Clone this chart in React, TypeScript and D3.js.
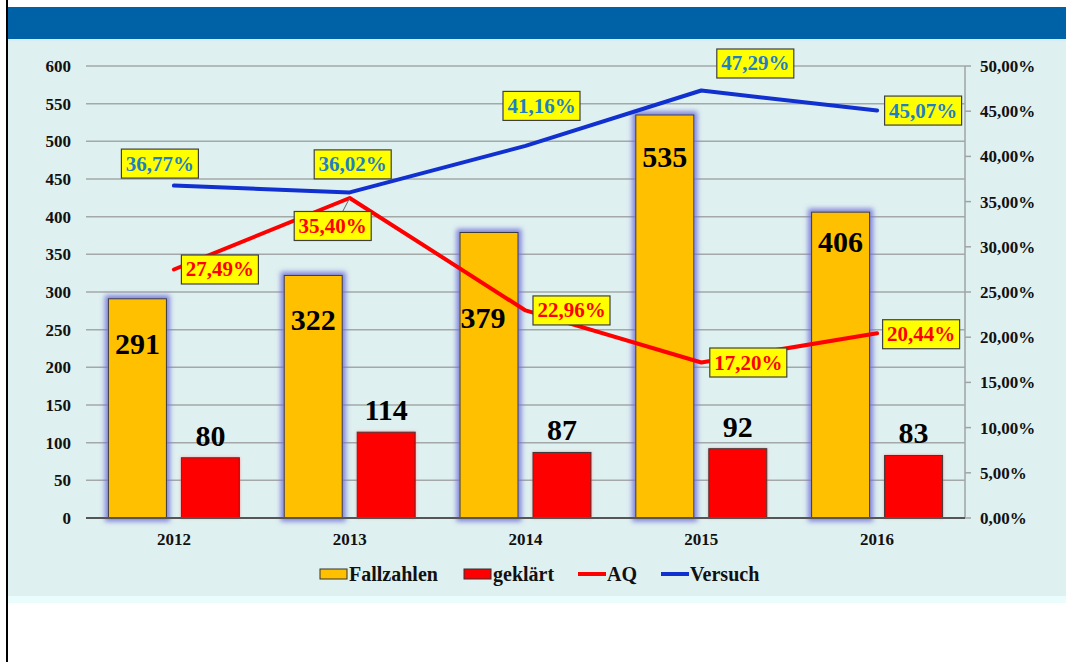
import React from "react";
import * as d3 from "d3";

const years = ["2012", "2013", "2014", "2015", "2016"];
const fallzahlen = [291, 322, 379, 535, 406];
const geklaert = [80, 114, 87, 92, 83];
const aq = [27.49, 35.4, 22.96, 17.2, 20.44];
const versuch = [36.77, 36.02, 41.16, 47.29, 45.07];
const leftTicks = [0, 50, 100, 150, 200, 250, 300, 350, 400, 450, 500, 550, 600];
const rightTicks = [0, 5, 10, 15, 20, 25, 30, 35, 40, 45, 50];
const legendNames = ["Fallzahlen", "geklärt", "AQ", "Versuch"];

// label placement (layout only)
const versuchLabelOffset = [[-14, -22], [3, -28], [16, -40], [54, -27], [46, 0]];
const aqLabelOffset = [[46, 0], [-17, 28], [46, 0], [47, 0], [44, 1]];
const fallLabelOffset = [[0, 55], [0, 55], [-6, 96], [0, 52], [0, 40]];

const W = 1066;
const H = 662;
const plotL = 86;
const plotR = 965;
const plotT = 66;
const plotB = 518;
const FONT = "'Liberation Serif', 'Times New Roman', serif";

const YELLOW = "#ffc000";
const RED = "#ff0000";
const BLUE = "#1030d0";
const LBLUE = "#1f7fc4";

const fmtPct = (v: number) => d3.format(".2f")(v).replace(".", ",") + "%";

export default function App() {
  const x0 = d3.scaleBand<string>().domain(years).range([plotL, plotR]).paddingInner(0).paddingOuter(0);
  const x1 = d3.scaleBand<string>().domain(["f", "g"]).range([0, x0.bandwidth()]).paddingInner(0.205).paddingOuter(0.307);
  const yL = d3.scaleLinear().domain([0, 600]).range([plotB, plotT]);
  const yR = d3.scaleLinear().domain([0, 50]).range([plotB, plotT]);
  const cx = (y: string) => (x0(y) as number) + x0.bandwidth() / 2;

  const line = d3
    .line<number>()
    .x((_, i) => cx(years[i]))
    .y((d) => yR(d))
    .curve(d3.curveLinear);

  const boxW = 77;
  const boxH = 29;

  const renderLabels = (vals: number[], offs: number[][], color: string, key: string) =>
    vals.map((v, i) => {
      const px = cx(years[i]);
      const py = yR(v);
      const bx = px + offs[i][0];
      const by = py + offs[i][1];
      return (
        <g key={key + i}>
          {key === "aq" && i === 1 && (
            <line x1={px} y1={py} x2={bx + 10} y2={by - boxH / 2} stroke="#666" strokeWidth={1} />
          )}
          <rect x={bx - boxW / 2} y={by - boxH / 2} width={boxW} height={boxH} fill="#ffff00" stroke="#404040" strokeWidth={1.2} />
          <text x={bx} y={by + 7} textAnchor="middle" fontFamily={FONT} fontWeight="bold" fontSize={21} fill={color}>
            {fmtPct(v)}
          </text>
        </g>
      );
    });

  const legendY = 574;
  const legendItems = [
    { x: 320, type: "rect", color: YELLOW },
    { x: 464, type: "rect", color: RED },
    { x: 578, type: "line", color: RED },
    { x: 661, type: "line", color: BLUE },
  ];

  return (
    <svg width={W} height={H} style={{ position: "absolute", left: 0, top: 0, display: "block" }}>
      <defs>
        <filter id="glowBlue" x="-30%" y="-30%" width="160%" height="160%">
          <feMorphology in="SourceAlpha" operator="dilate" radius="3" result="d" />
          <feGaussianBlur in="d" stdDeviation="2.5" result="b" />
          <feFlood floodColor="#7070d8" floodOpacity="0.85" />
          <feComposite in2="b" operator="in" result="g" />
          <feMerge>
            <feMergeNode in="g" />
            <feMergeNode in="SourceGraphic" />
          </feMerge>
        </filter>
        <filter id="glowRed" x="-30%" y="-30%" width="160%" height="160%">
          <feGaussianBlur in="SourceAlpha" stdDeviation="1.5" result="b" />
          <feFlood floodColor="#ff6060" floodOpacity="0.5" />
          <feComposite in2="b" operator="in" result="g" />
          <feMerge>
            <feMergeNode in="g" />
            <feMergeNode in="SourceGraphic" />
          </feMerge>
        </filter>
      </defs>
      <rect x={0} y={0} width={W} height={H} fill="#ffffff" />
      <rect x={8} y={40} width={W - 8} height={563} fill="#eafcfc" />
      <rect x={8} y={40} width={W - 8} height={556} fill="#dff0f0" />
      <rect x={8} y={7} width={W - 8} height={33} fill="#0062a6" />
      <rect x={8} y={39} width={W - 8} height={2} fill="#d8ecf4" />
      <line x1={7} y1={0} x2={7} y2={H} stroke="#000" strokeWidth={2} />

      {leftTicks
        .filter((t) => t > 0)
        .map((t) => (
          <line key={"g" + t} x1={plotL} x2={plotR} y1={yL(t)} y2={yL(t)} stroke="#a4a8a8" strokeWidth={1.5} />
        ))}

      {leftTicks.map((t) => (
        <text key={"l" + t} x={71} y={yL(t) + 6} textAnchor="end" fontFamily={FONT} fontWeight="bold" fontSize={17} fill="#111">
          {t}
        </text>
      ))}

      <line x1={plotR} x2={plotR} y1={plotT} y2={plotB} stroke="#a0a4a4" strokeWidth={1.5} />
      {rightTicks.map((t) => (
        <g key={"r" + t}>
          <line x1={plotR} x2={plotR + 6} y1={yR(t)} y2={yR(t)} stroke="#a0a4a4" strokeWidth={1.5} />
          <text x={980} y={yR(t) + 6} fontFamily={FONT} fontWeight="bold" fontSize={17} fill="#111">
            {fmtPct(t)}
          </text>
        </g>
      ))}

      {years.map((yr, i) => {
        const bx = x0(yr) as number;
        const fx = bx + (x1("f") as number);
        const gx = bx + (x1("g") as number);
        const bw = x1.bandwidth();
        return (
          <g key={"b" + yr}>
            <rect x={fx} y={yL(fallzahlen[i])} width={bw} height={plotB - yL(fallzahlen[i])} fill={YELLOW} stroke="#3a3a3a" strokeWidth={1} filter="url(#glowBlue)" />
            <rect x={gx} y={yL(geklaert[i])} width={bw} height={plotB - yL(geklaert[i])} fill={RED} stroke="#3a3a3a" strokeWidth={1} filter="url(#glowRed)" />
          </g>
        );
      })}

      <line x1={plotL} x2={plotR} y1={plotB} y2={plotB} stroke="#555" strokeWidth={2} />
      {years.map((yr) => (
        <text key={"x" + yr} x={cx(yr)} y={545} textAnchor="middle" fontFamily={FONT} fontWeight="bold" fontSize={17} fill="#111">
          {yr}
        </text>
      ))}

      {years.map((yr, i) => {
        const bx = x0(yr) as number;
        const bw = x1.bandwidth();
        const fx = bx + (x1("f") as number) + bw / 2;
        const gx = bx + (x1("g") as number) + bw / 2;
        return (
          <g key={"v" + yr}>
            <text x={fx + fallLabelOffset[i][0]} y={yL(fallzahlen[i]) + fallLabelOffset[i][1]} textAnchor="middle" fontFamily={FONT} fontWeight="bold" fontSize={30} fill="#000">
              {fallzahlen[i]}
            </text>
            <text x={gx} y={yL(geklaert[i]) - 12} textAnchor="middle" fontFamily={FONT} fontWeight="bold" fontSize={30} fill="#000">
              {geklaert[i]}
            </text>
          </g>
        );
      })}

      <path d={line(aq) || ""} fill="none" stroke={RED} strokeWidth={4} strokeLinejoin="round" strokeLinecap="round" />
      <path d={line(versuch) || ""} fill="none" stroke={BLUE} strokeWidth={4} strokeLinejoin="round" strokeLinecap="round" />

      {renderLabels(aq, aqLabelOffset, RED, "aq")}
      {renderLabels(versuch, versuchLabelOffset, LBLUE, "vs")}

      {legendItems.map((it, i) => (
        <g key={"lg" + i}>
          {it.type === "rect" ? (
            <rect x={it.x} y={legendY - 5} width={27} height={10} fill={it.color} stroke="#333" strokeWidth={1} />
          ) : (
            <line x1={it.x} x2={it.x + 28} y1={legendY} y2={legendY} stroke={it.color} strokeWidth={4} />
          )}
          <text x={it.x + 29} y={legendY + 7} fontFamily={FONT} fontWeight="bold" fontSize={20} fill="#111">
            {legendNames[i]}
          </text>
        </g>
      ))}
    </svg>
  );
}
